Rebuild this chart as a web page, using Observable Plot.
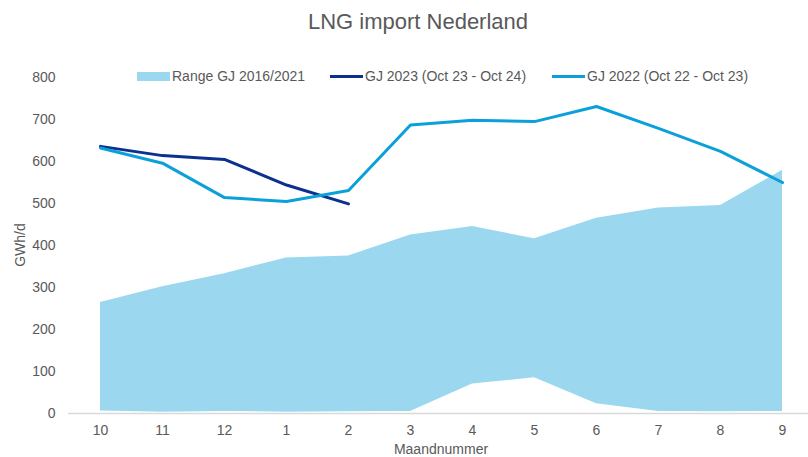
<!DOCTYPE html>
<html>
<head>
<meta charset="utf-8">
<script src="https://cdn.jsdelivr.net/npm/d3@7"></script>
<script src="https://cdn.jsdelivr.net/npm/@observablehq/plot@0.6"></script>
<style>
  html, body { margin: 0; padding: 0; background: #fff; }
  body { font-family: "Liberation Sans", Arial, sans-serif; color: #595959; }
  #wrap { position: relative; width: 808px; height: 457px; overflow: hidden; }
  #title { position: absolute; left: 0; width: 836px; top: 9px; text-align: center; font-size: 22px; color: #595959; }
  .leg { position: absolute; top: 68px; font-size: 14px; color: #595959; display: flex; align-items: center; white-space: nowrap; }
  .sw { display: inline-block; width: 33px; margin-right: 2px; }
  #ylab { position: absolute; left: 20px; top: 245px; font-size: 14px; transform: translate(-50%, -50%) rotate(-90deg); white-space: nowrap; }
  #xlab { position: absolute; left: 441px; top: 442px; font-size: 14px; line-height: 14px; transform: translateX(-50%); white-space: nowrap; }
  svg { position: absolute; left: 0; top: 0; }
</style>
</head>
<body>
<div id="wrap">
  <div id="chart"></div>
  <div id="title">LNG import Nederland</div>
  <div class="leg" style="left:137px"><span class="sw" style="height:9px;background:#9BD8EF"></span>Range GJ 2016/2021</div>
  <div class="leg" style="left:330px"><span class="sw" style="height:3px;background:#0B318F"></span>GJ 2023 (Oct 23 - Oct 24)</div>
  <div class="leg" style="left:552px"><span class="sw" style="height:3px;background:#0BA0DA"></span>GJ 2022 (Oct 22 - Oct 23)</div>
  <div id="ylab">GWh/d</div>
  <div id="xlab">Maandnummer</div>
</div>
<script>
const months = ["10","11","12","1","2","3","4","5","6","7","8","9"];
const rangeLow  = [6, 3, 5, 3, 4, 5, 70, 85, 23, 5, 4, 5];
const rangeHigh = [264, 302, 333, 370, 375, 425, 445, 416, 465, 489, 495, 579];
const gj2022 = [632, 596, 514, 505, 531, 687, 698, 695, 731, 679, 624, 550];
const gj2023 = [636, 614, 605, 544, 499];
const yTicks = [0, 100, 200, 300, 400, 500, 600, 700, 800];

const rangeData = months.map((m, i) => ({month: m, low: rangeLow[i], high: rangeHigh[i]}));
const d2022 = gj2022.map((v, i) => ({month: months[i], value: v}));
const d2023 = gj2023.map((v, i) => ({month: months[i], value: v}));

const chart = Plot.plot({
  width: 808,
  height: 457,
  marginTop: 77,
  marginBottom: 44,
  marginLeft: 68,
  marginRight: -6,
  style: {fontFamily: "Liberation Sans, Arial, sans-serif", fontSize: "14px", color: "#595959", background: "transparent", overflow: "visible"},
  x: {type: "point", domain: months, padding: 0.5, label: null},
  y: {domain: [0, 800], label: null},
  marks: [
    Plot.areaY(rangeData, {x: "month", y1: "low", y2: "high", fill: "#9BD8EF", curve: "linear"}),
    Plot.ruleY([0], {stroke: "#d9d9d9", strokeWidth: 1.5}),
    Plot.lineY(d2023, {x: "month", y: "value", stroke: "#0B318F", strokeWidth: 3, strokeLinejoin: "round"}),
    Plot.lineY(d2022, {x: "month", y: "value", stroke: "#0BA0DA", strokeWidth: 3, strokeLinejoin: "round"}),
    Plot.axisY(yTicks, {tickSize: 0, tickPadding: 13, label: null, fill: "#595959", fontSize: 14}),
    Plot.axisX({tickSize: 0, tickPadding: 12, label: null, fill: "#595959", fontSize: 14})
  ]
});
document.getElementById("chart").appendChild(chart);
</script>
</body>
</html>
